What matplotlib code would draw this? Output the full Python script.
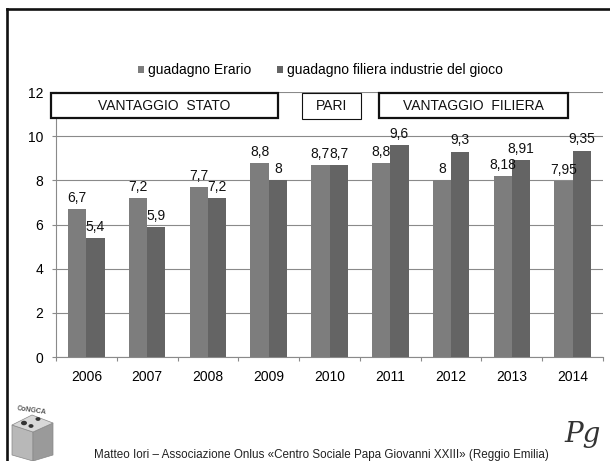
import matplotlib
matplotlib.use("Agg")
import matplotlib.pyplot as plt
from matplotlib.patches import Rectangle, Polygon, Circle
from matplotlib.lines import Line2D
import numpy as np

plt.rcParams['font.family'] = ['Liberation Sans', 'DejaVu Sans']

years = ['2006', '2007', '2008', '2009', '2010', '2011', '2012', '2013', '2014']
erario = [6.7, 7.2, 7.7, 8.8, 8.7, 8.8, 8.0, 8.18, 7.95]
filiera = [5.4, 5.9, 7.2, 8.0, 8.7, 9.6, 9.3, 8.91, 9.35]
series_names = ['guadagno Erario', 'guadagno filiera industrie del gioco']
yticks = [0, 2, 4, 6, 8, 10, 12]
box_labels = ['VANTAGGIO  STATO', 'PARI', 'VANTAGGIO  FILIERA']
footer = 'Matteo Iori \u2013 Associazione Onlus \u00abCentro Sociale Papa Giovanni XXIII\u00bb (Reggio Emilia)'

W, H = 610, 461
fig = plt.figure(figsize=(W / 100, H / 100), dpi=100)
fig.patch.set_facecolor('white')


def fx(x):
    return x / W


def fy(y):
    return 1 - y / H


ax = fig.add_axes([fx(56), fy(357), fx(603) - fx(56), fy(92) - fy(357)])

c_erario = '#7d7d7d'
c_filiera = '#646464'
grid_c = '#8a8a8a'

x = np.arange(len(years))
bw = 0.3
b1 = ax.bar(x - bw / 2, erario, bw, color=c_erario, zorder=3, label=series_names[0])
b2 = ax.bar(x + bw / 2, filiera, bw, color=c_filiera, zorder=3, label=series_names[1])


def fmt(v):
    return f"{v:g}".replace('.', ',')


for bars, vals in ((b1, erario), (b2, filiera)):
    for r, v in zip(bars, vals):
        ax.annotate(fmt(v), (r.get_x() + r.get_width() / 2, v), xytext=(0, 3),
                    textcoords='offset points', ha='center', va='bottom',
                    fontsize=10, color='#111111', zorder=5)

ax.set_xlim(-0.5, len(years) - 0.5)
ax.set_ylim(0, 12)
ax.set_yticks(yticks)
ax.set_yticklabels([str(t) for t in yticks])
ax.set_xticks(x)
ax.set_xticklabels(years)
ax.set_xticks(np.arange(-0.5, len(years), 1.0), minor=True)
ax.tick_params(axis='x', which='major', length=0, pad=9, labelsize=10)
ax.tick_params(axis='x', which='minor', length=3, color=grid_c, width=0.8)
ax.tick_params(axis='y', which='major', length=3, color=grid_c, width=0.8, pad=6, labelsize=10)
ax.grid(axis='y', color=grid_c, linewidth=0.8, zorder=0)
ax.set_axisbelow(True)
for s in ('top', 'right'):
    ax.spines[s].set_visible(False)
for s in ('left', 'bottom'):
    ax.spines[s].set_color(grid_c)
    ax.spines[s].set_linewidth(0.8)

# legend
fig.legend(handles=[b1, b2], labels=series_names, loc='center',
           bbox_to_anchor=(fx(320.5), fy(70)), ncol=2, frameon=False,
           fontsize=10, handlelength=0.4, handleheight=0.4,
           handletextpad=0.3, columnspacing=1.9, borderpad=0)

# header boxes
boxes = [(50.7, 93, 278, 118, 1.6), (301.7, 93, 360.7, 119, 0.8), (379, 93, 568, 118, 1.6)]
for (x0, y0, x1, y1, lw), lab in zip(boxes, box_labels):
    fig.patches.append(Rectangle((fx(x0), fy(y1)), fx(x1) - fx(x0), fy(y0) - fy(y1),
                                 transform=fig.transFigure, facecolor='white',
                                 edgecolor='#111111', linewidth=lw, zorder=10))
    fig.text(fx((x0 + x1) / 2), fy((y0 + y1) / 2), lab, ha='center', va='center',
             fontsize=10, color='#111111', zorder=11)

# slide frame
fig.add_artist(Line2D([fx(6.5), fx(6.5)], [fy(9.5), fy(470)], transform=fig.transFigure,
                      color='#111111', linewidth=1.9, solid_capstyle='projecting'))
fig.add_artist(Line2D([fx(6.5), fx(620)], [fy(9.5), fy(9.5)], transform=fig.transFigure,
                      color='#111111', linewidth=1.9, solid_capstyle='projecting'))

# footer
fig.text(fx(321), fy(449), footer, ha='center', va='top', fontsize=8.4, color='#222222')

# left logo (approximate cube)
cube_front = Polygon([[fx(12), fy(425)], [fx(33), fy(432)], [fx(33), fy(461)], [fx(12), fy(455)]],
                     closed=True, transform=fig.transFigure, facecolor='#b8b8b8', edgecolor='#888888', lw=0.5)
cube_side = Polygon([[fx(33), fy(432)], [fx(53), fy(423)], [fx(53), fy(455)], [fx(33), fy(461)]],
                    closed=True, transform=fig.transFigure, facecolor='#9a9a9a', edgecolor='#888888', lw=0.5)
cube_top = Polygon([[fx(12), fy(425)], [fx(32), fy(415)], [fx(53), fy(423)], [fx(33), fy(432)]],
                   closed=True, transform=fig.transFigure, facecolor='#d8d8d8', edgecolor='#888888', lw=0.5)
for p in (cube_front, cube_side, cube_top):
    fig.patches.append(p)
for cx, cy, r in ((24, 423, 3), (31, 426, 2.5), (38, 419, 2.5)):
    fig.patches.append(Circle((fx(cx), fy(cy)), r / W, transform=fig.transFigure,
                              facecolor='#333333', edgecolor='none'))
fig.text(fx(32), fy(411), 'CoNGCA', ha='center', va='center', fontsize=5, color='#555555',
         rotation=-8, fontweight='bold')

# right logo
fig.text(fx(583), fy(434), 'Pg', ha='center', va='center', fontsize=20, color='#333333',
         family='DejaVu Serif', style='italic')

fig.savefig('out.png', dpi=100, facecolor='white')
